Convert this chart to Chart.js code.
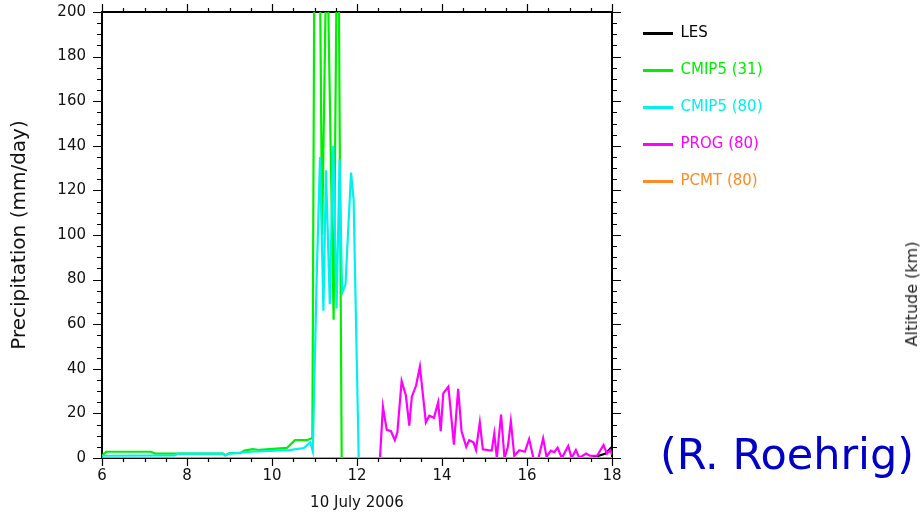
<!DOCTYPE html>
<html><head><meta charset="utf-8">
<script src="https://cdn.jsdelivr.net/npm/chart.js@4.4.0/dist/chart.umd.min.js"></script>
<style>
html,body{margin:0;padding:0;background:#fff;}
#wrap{position:relative;width:924px;height:512px;overflow:hidden;background:#fff;}
#c{position:absolute;left:0;top:0;}
.note{position:absolute;font-family:'DejaVu Sans',sans-serif;white-space:nowrap;}
#roehrig{left:660px;top:433px;font-size:43px;line-height:1;color:#0000c8;}
#alt{left:912px;top:294px;font-size:16px;line-height:1;color:#222;transform:translate(-50%,-50%) rotate(-90deg);}
</style></head>
<body><div id="wrap"><canvas id="c" width="924" height="512"></canvas>
<div class="note" id="roehrig">(R. Roehrig)</div>
<div class="note" id="alt">Altitude (km)</div></div>
<script>
// ---- data (hours of 10 July 2006, precipitation in mm/day) ----
const seriesNames = ['LES', 'CMIP5 (31)', 'CMIP5 (80)', 'PROG (80)', 'PCMT (80)'];
const xTitle = '10 July 2006';
const yTitle = 'Precipitation (mm/day)';
const xTickStep = 2, xMinorStep = 0.5, yTickStep = 20, yMinorStep = 5;

const lesT = [6, 17.5, 17.65, 17.85, 18];
const lesV = [0, 0, 0.8, 2, 5];

const cmip31T = [6.0, 6.1, 7.15, 7.25, 8.85, 8.9, 9.0, 9.25, 9.35, 9.55, 9.7, 10.35, 10.54, 10.82, 10.95,
                 11.04, 11.18, 11.29, 11.45, 11.55, 11.64, 18];
const cmip31V = [1, 2.8, 2.8, 2, 2, 1.2, 2.2, 2.2, 3.3, 4, 3.6, 4.5, 8, 8, 9,
                 420, 100, 240, 62, 280, 0, 0];

const cmip80T = [6.0, 7.7, 7.8, 8.85, 8.9, 9.0, 9.5, 10.4, 10.75, 10.9, 10.96,
                 11.05, 11.13, 11.21, 11.27, 11.36, 11.44, 11.52, 11.59, 11.65, 11.73, 11.86, 11.92, 12.04, 18];
const cmip80V = [1, 1.2, 2, 2, 1.2, 2, 2.8, 3.5, 4.5, 7, 3,
                 80, 135, 66, 129, 69, 140, 67, 134, 74, 78, 128, 116, 0, 0];

const progT = [6, 12.54, 12.61, 12.70, 12.80, 12.89, 12.95, 13.05, 13.15, 13.23, 13.29, 13.39, 13.48, 13.62, 13.70,
               13.81, 13.91, 13.97, 14.03, 14.15, 14.28, 14.38, 14.46, 14.57, 14.64, 14.74, 14.80, 14.89, 14.96,
               15.09, 15.17, 15.23, 15.29, 15.39, 15.47, 15.55, 15.62, 15.70, 15.82, 15.95, 16.05, 16.15, 16.27,
               16.38, 16.46, 16.56, 16.64, 16.72, 16.82, 16.97, 17.05, 17.15, 17.23, 17.39, 17.48, 17.65, 17.80,
               17.88, 17.96, 18.0];
const progV = [0, 0, 23, 12.6, 12, 8, 11.5, 34.5, 28, 14.5, 27.5, 32.5, 41, 16, 19,
               18, 25, 12, 29, 32, 6, 31, 12, 5, 8, 7, 3.6, 16, 3.9,
               3.5, 3.3, 11, 0, 19.5, 0, 5, 16.5, 1, 3.5, 2.8, 8.5, 0, 0,
               8.8, 0.5, 3.3, 2.6, 4.6, 0, 5.4, 0, 3.6, 0, 2, 1, 1, 5.8,
               2, 3.5, 1.5];

const pcmtT = [6, 18];
const pcmtV = [0, 0];

const colors = ['#000000', '#00f000', '#00f0f0', '#ff00ff', '#ff8a26'];

function pts(t, v) { return t.map((x, i) => ({x: x, y: v[i]})); }
const allT = [lesT, cmip31T, cmip80T, progT, pcmtT];
const allV = [lesV, cmip31V, cmip80V, progV, pcmtV];

Chart.defaults.font.family = "'DejaVu Sans', sans-serif";
Chart.defaults.color = '#111';

const datasets = seriesNames.map((n, i) => ({
  label: n, data: pts(allT[i], allV[i]), borderColor: colors[i], backgroundColor: colors[i],
  borderWidth: 2.2, pointRadius: 0, tension: 0, order: 5 - i, xAxisID: 'x', yAxisID: 'y'
}));

function noPad(s) { s.paddingTop = 0; s.paddingBottom = 0; s.paddingLeft = 0; s.paddingRight = 0; }

const tickPlugin = {
  id: 'outerTicks',
  afterLayout(chart) {
    const lg = chart.legend; if (!lg) return;
    const w = lg.width, h = lg.height;
    lg.left = 621; lg.right = 621 + w; lg.top = 4; lg.bottom = 4 + h;
  },
  afterDraw(chart) {
    const {ctx, chartArea: a, scales: {x, y}} = chart;
    ctx.save(); ctx.strokeStyle = '#000'; ctx.lineWidth = 1.2; ctx.beginPath();
    for (let v = x.min; v <= x.max + 1e-9; v += xMinorStep) {
      const p = Math.round(x.getPixelForValue(v)) + 0.5;
      const major = Math.abs(v / xTickStep - Math.round(v / xTickStep)) < 1e-6;
      const L = major ? 8 : 4;
      ctx.moveTo(p, a.bottom); ctx.lineTo(p, a.bottom + L);
      ctx.moveTo(p, a.top); ctx.lineTo(p, a.top - L);
    }
    for (let v = y.min; v <= y.max + 1e-9; v += yMinorStep) {
      const p = Math.round(y.getPixelForValue(v)) + 0.5;
      const major = Math.abs(v / yTickStep - Math.round(v / yTickStep)) < 1e-6;
      const L = major ? 9 : 5;
      ctx.moveTo(a.left, p); ctx.lineTo(a.left - L, p);
      ctx.moveTo(a.right, p); ctx.lineTo(a.right + L, p);
    }
    ctx.stroke(); ctx.restore();
  }
};

new Chart(document.getElementById('c'), {
  type: 'line',
  data: {datasets: datasets},
  plugins: [tickPlugin],
  options: {
    responsive: false, animation: false, events: [],
    layout: {padding: 0, autoPadding: false},
    plugins: {
      tooltip: {enabled: false},
      legend: {
        position: 'right', align: 'start',
        labels: {
          boxWidth: 30, boxHeight: 3, padding: 22, font: {size: 15},
          sort: (a, b) => a.datasetIndex - b.datasetIndex,
          generateLabels(chart) {
            const items = Chart.defaults.plugins.legend.labels.generateLabels(chart);
            items.forEach(it => {
              const c = colors[it.datasetIndex];
              it.fontColor = c; it.fillStyle = c; it.strokeStyle = c; it.lineWidth = 0;
            });
            return items;
          }
        }
      }
    },
    scales: {
      x: {
        type: 'linear', position: 'bottom', min: 6, max: 18,
        afterFit(s) { s.height = 54; noPad(s); },
        ticks: {stepSize: xTickStep, padding: 9, font: {size: 15}, color: '#111', maxRotation: 0, autoSkip: false},
        grid: {display: false, drawTicks: false},
        border: {display: true, color: '#000', width: 2},
        title: {display: true, text: xTitle, font: {size: 15}, color: '#111', padding: {top: 0, bottom: 0}}
      },
      x2: {
        type: 'linear', position: 'top', min: 6, max: 18,
        afterFit(s) { s.height = 12; noPad(s); },
        ticks: {display: false}, grid: {display: false, drawTicks: false},
        border: {display: true, color: '#000', width: 2}
      },
      y: {
        type: 'linear', position: 'left', min: 0, max: 200,
        afterFit(s) { s.width = 102; noPad(s); },
        ticks: {stepSize: yTickStep, padding: 16, font: {size: 15}, color: '#111'},
        grid: {display: false, drawTicks: false},
        border: {display: true, color: '#000', width: 2},
        title: {display: true, text: yTitle, font: {size: 20}, color: '#111', padding: {top: 8, bottom: 0}}
      },
      y2: {
        type: 'linear', position: 'right', min: 0, max: 200,
        afterFit(s) { s.width = s.chart.width - s.chart.legend.width - 612; noPad(s); },
        ticks: {display: false}, grid: {display: false, drawTicks: false},
        border: {display: true, color: '#000', width: 2}
      }
    }
  }
});
</script>
</body></html>
